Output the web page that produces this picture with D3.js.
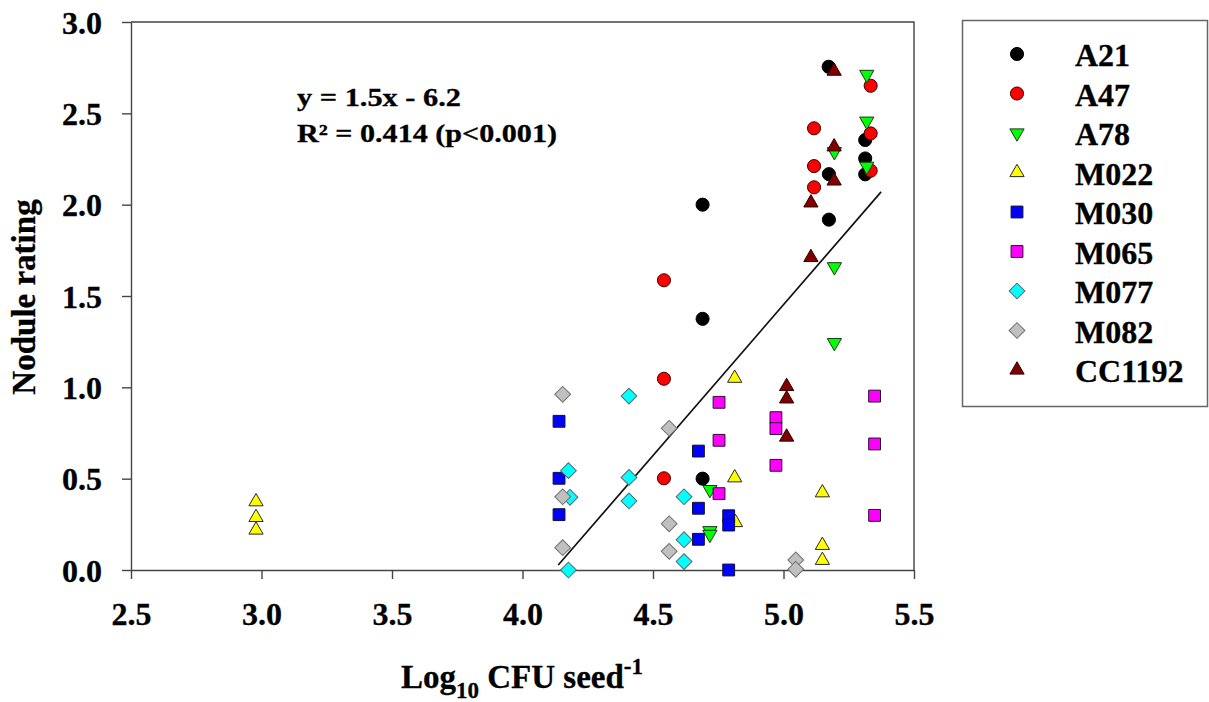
<!DOCTYPE html>
<html>
<head>
<meta charset="utf-8">
<script src="https://cdn.jsdelivr.net/npm/d3@7"></script>
<style>
  html, body { margin: 0; padding: 0; background: #fff; }
  svg { display: block; }
  text { font-family: "Liberation Serif", "Times New Roman", serif; font-weight: bold; fill: #000; stroke: #000; stroke-width: 0.3px; }
</style>
</head>
<body>
<svg id="chart" width="1209" height="702"></svg>
<script>
// ---- data: [log10 CFU per seed, nodule rating] for each strain ----
const strains = ["A21", "A47", "A78", "M022", "M030", "M065", "M077", "M082", "CC1192"];

const A21 = [[4.69, 2.00], [4.69, 1.375], [4.69, 0.50],
             [5.173, 2.755], [5.174, 2.167], [5.174, 1.918],
             [5.313, 2.354], [5.313, 2.253], [5.313, 2.166]];
const A47 = [[4.542, 1.586], [4.542, 1.047], [4.542, 0.502],
             [5.117, 2.418], [5.117, 2.211], [5.117, 2.095],
             [5.334, 2.651], [5.334, 2.390], [5.334, 2.186]];
const A78 = [[4.718, 0.44], [4.718, 0.215], [4.718, 0.195],
             [5.195, 2.29], [5.195, 1.66], [5.195, 1.245],
             [5.319, 2.713], [5.319, 2.457], [5.319, 2.21]];
const M022 = [[2.979, 0.374], [2.979, 0.288], [2.979, 0.219],
              [4.813, 1.05], [4.813, 0.505], [4.816, 0.26],
              [5.149, 0.423], [5.149, 0.135], [5.149, 0.053]];
const M030 = [[4.140, 0.814], [4.140, 0.502], [4.140, 0.303],
              [4.674, 0.651], [4.674, 0.338], [4.674, 0.168],
              [4.790, 0.297], [4.790, 0.246], [4.790, 0.0]];
const M065 = [[4.753, 0.918], [4.753, 0.710], [4.753, 0.418],
              [4.971, 0.834], [4.971, 0.774], [4.971, 0.573],
              [5.349, 0.952], [5.349, 0.690], [5.349, 0.299]];
const M077 = [[4.176, 0.544], [4.182, 0.398], [4.176, 0.0],
              [4.408, 0.952], [4.408, 0.507], [4.408, 0.378],
              [4.619, 0.401], [4.619, 0.166], [4.619, 0.046]];
const M082 = [[4.154, 0.962], [4.154, 0.401], [4.154, 0.122],
              [4.562, 0.776], [4.562, 0.253], [4.562, 0.102],
              [5.047, 0.055], [5.047, 0.004]];
const CC1192 = [[5.012, 1.005], [5.012, 0.937], [5.012, 0.728],
                [5.105, 2.010], [5.105, 1.711],
                [5.194, 2.731], [5.194, 2.317], [5.194, 2.13]];

const seriesValues = [A21, A47, A78, M022, M030, M065, M077, M082, CC1192];

// fitted regression segment (x, y) at its two ends
const fitX = [4.137, 5.374];
const fitY = [0.027, 2.07];
const fitLabels = ["y = 1.5x - 6.2", "R\u00B2 = 0.414 (p<0.001)"];

const xTicks = [2.5, 3.0, 3.5, 4.0, 4.5, 5.0, 5.5];
const yTicks = [0.0, 0.5, 1.0, 1.5, 2.0, 2.5, 3.0];

// ---- marker styling per strain ----
const markerStyle = {
  A21:    { shape: "circle",   fill: "#000000", stroke: "#000000" },
  A47:    { shape: "circle",   fill: "#ff0000", stroke: "#3a0000" },
  A78:    { shape: "down",     fill: "#00ff00", stroke: "#1a3a1a" },
  M022:   { shape: "up",       fill: "#ffff00", stroke: "#2a2a2a" },
  M030:   { shape: "square",   fill: "#0000ff", stroke: "#101030" },
  M065:   { shape: "square",   fill: "#ff00ff", stroke: "#2a102a" },
  M077:   { shape: "diamond",  fill: "#00ffff", stroke: "#5a6a6a" },
  M082:   { shape: "diamond",  fill: "#c0c0c0", stroke: "#6e6e6e" },
  CC1192: { shape: "up",       fill: "#800000", stroke: "#300000" }
};

const shapePath = {
  circle:  d3.symbol(d3.symbolCircle, 135)(),
  up:      d3.symbol(d3.symbolTriangle, 88)(),
  down:    d3.symbol(d3.symbolTriangle, 88)(),
  square:  d3.symbol(d3.symbolSquare, 140)(),
  diamond: d3.symbol(d3.symbolSquare, 125)()
};
const shapeRotate = { circle: 0, up: 0, down: 180, square: 0, diamond: 45 };

const svg = d3.select("#chart");
const plot = { left: 131, right: 914, top: 22, bottom: 570 };

const x = d3.scaleLinear().domain([2.5, 5.5]).range([plot.left, plot.right]);
const y = d3.scaleLinear().domain([0, 3]).range([plot.bottom, plot.top]);

const axisColor = "#444";
const serif = '"Liberation Serif", "Times New Roman", serif';

// frame (top and right edges)
svg.append("path")
  .attr("d", `M${plot.left},${plot.top}H${plot.right}V${plot.bottom}`)
  .attr("fill", "none").attr("stroke", axisColor).attr("stroke-width", 1.4);

// x axis
const gx = svg.append("g")
  .attr("transform", `translate(0,${plot.bottom})`)
  .call(d3.axisBottom(x).tickValues(xTicks).tickFormat(d3.format(".1f"))
        .tickSize(9).tickSizeOuter(0));
gx.select(".domain").attr("stroke", axisColor).attr("stroke-width", 1.4);
gx.selectAll(".tick line").attr("stroke", axisColor).attr("stroke-width", 1.4);
gx.selectAll(".tick text")
  .attr("y", 55).attr("dy", null)
  .style("font-family", serif).style("font-weight", "bold").style("font-size", "32px")
  .attr("fill", "#000").attr("stroke", "#000").attr("stroke-width", 0.3);

// y axis
const gy = svg.append("g")
  .attr("transform", `translate(${plot.left},0)`)
  .call(d3.axisLeft(y).tickValues(yTicks).tickFormat(d3.format(".1f"))
        .tickSize(9).tickSizeOuter(0));
gy.select(".domain").attr("stroke", axisColor).attr("stroke-width", 1.4);
gy.selectAll(".tick line").attr("stroke", axisColor).attr("stroke-width", 1.4);
gy.selectAll(".tick text")
  .attr("x", -29).attr("dy", "0.35em")
  .style("font-family", serif).style("font-weight", "bold").style("font-size", "32px")
  .attr("fill", "#000").attr("stroke", "#000").attr("stroke-width", 0.3);

// axis titles
svg.append("text")
  .attr("transform", `translate(35,297) rotate(-90)`)
  .attr("text-anchor", "middle")
  .style("font-size", "33px")
  .text("Nodule rating");

const xt = svg.append("text")
  .attr("x", 522).attr("y", 688)
  .attr("text-anchor", "middle")
  .style("font-size", "33px");
xt.append("tspan").text("Log");
xt.append("tspan").attr("dy", 10).style("font-size", "23px").text("10");
xt.append("tspan").attr("dy", -10).text(" CFU seed");
xt.append("tspan").attr("dy", -14).style("font-size", "23px").text("-1");

// regression line
svg.append("line")
  .attr("x1", x(fitX[0])).attr("y1", y(fitY[0]))
  .attr("x2", x(fitX[1])).attr("y2", y(fitY[1]))
  .attr("stroke", "#111").attr("stroke-width", 1.7);

// regression equation
const eqWidths = [164, 260];
fitLabels.forEach((t, i) => {
  svg.append("text")
    .attr("x", 297).attr("y", 106 + i * 36)
    .style("font-size", "25px")
    .attr("textLength", eqWidths[i])
    .attr("lengthAdjust", "spacingAndGlyphs")
    .text(t);
});

// points, drawn strain by strain
function drawMarker(g, name, px, py) {
  const st = markerStyle[name];
  g.append("path")
    .attr("d", shapePath[st.shape])
    .attr("transform", `translate(${px},${py}) rotate(${shapeRotate[st.shape]})`)
    .attr("fill", st.fill)
    .attr("stroke", st.stroke)
    .attr("stroke-width", 1);
}

const gPts = svg.append("g");
strains.forEach((name, i) => {
  const g = gPts.append("g").attr("class", "strain-" + name);
  seriesValues[i].forEach(d => drawMarker(g, name, x(d[0]), y(d[1])));
});

// legend
const legend = svg.append("g");
legend.append("rect")
  .attr("x", 962.5).attr("y", 20.5).attr("width", 245).attr("height", 386)
  .attr("fill", "#fff").attr("stroke", "#666").attr("stroke-width", 1.5);
strains.forEach((name, i) => {
  const ry = 54 + i * 39.5;
  drawMarker(legend, name, 1017, ry);
  legend.append("text")
    .attr("x", 1075).attr("y", ry + 12)
    .style("font-size", "32px")
    .text(name);
});
</script>
</body>
</html>
